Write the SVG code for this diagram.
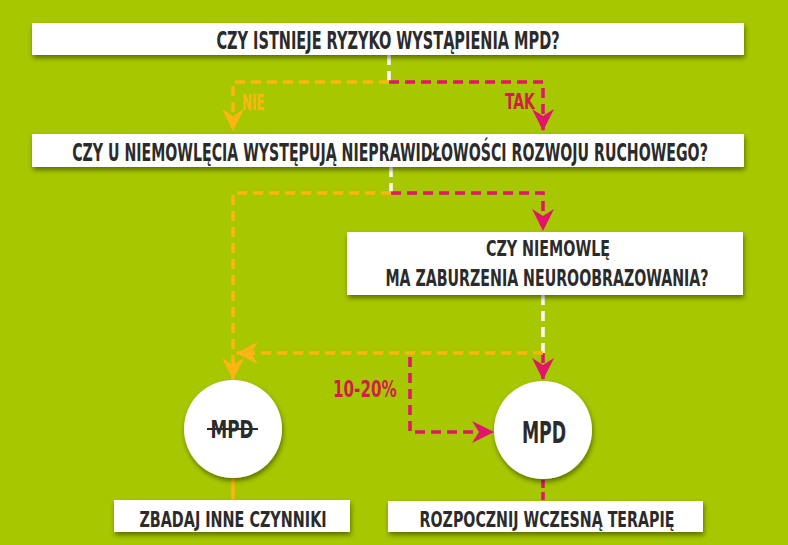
<svg xmlns="http://www.w3.org/2000/svg" width="788" height="545" viewBox="0 0 788 545">
<style>
.bg{fill:#a7c700}
.box{fill:#ffffff;filter:url(#sh)}
.t{font-family:"Liberation Sans Narrow","DejaVu Sans Condensed",Roboto,sans-serif;font-weight:700;fill:#2b2b2b;text-anchor:middle}
.lbl{font-family:"Liberation Sans Narrow","DejaVu Sans Condensed",Roboto,sans-serif;font-weight:700}
.c{fill:none;stroke-width:3.5;stroke-dasharray:10 6}
.w{stroke:#ffffff}
.y{stroke:#fdb515}
.r{stroke:#e0156b}
</style>
<defs>
<filter id="sh" x="-10%" y="-30%" width="120%" height="170%">
<feDropShadow dx="1" dy="3" stdDeviation="2.5" flood-color="#000" flood-opacity="0.45"/>
</filter>
<marker id="ay" viewBox="-23 -12 24 24" refX="0" refY="0" markerWidth="24" markerHeight="24" markerUnits="userSpaceOnUse" orient="auto">
<path d="M0,0 L-22,-11 L-15,0 L-22,11 Z" fill="#fdb515"/>
</marker>
<marker id="ar" viewBox="-23 -12 24 24" refX="0" refY="0" markerWidth="24" markerHeight="24" markerUnits="userSpaceOnUse" orient="auto">
<path d="M0,0 L-22,-11 L-15,0 L-22,11 Z" fill="#e0156b"/>
</marker>
</defs>
<rect class="bg" x="0" y="0" width="788" height="545"/>

<g id="connectors">
<path class="c w" d="M389,55 V82"/>
<path class="c y" d="M389,82 H233 V131" marker-end="url(#ay)"/>
<path class="c r" d="M389,82 H543 V131" marker-end="url(#ar)"/>
<path class="c w" d="M391,167 V193"/>
<path class="c y" d="M391,193 H233 V380" marker-end="url(#ay)"/>
<path class="c r" d="M391,193 H543 V231" marker-end="url(#ar)"/>
<path class="c w" d="M543,295 V353"/>
<path class="c r" d="M543,353 V380" marker-end="url(#ar)"/>
<path class="c y" d="M543,353 H236" marker-end="url(#ay)"/>
<path class="c r" d="M410,357 V432 H494" marker-end="url(#ar)"/>
<path class="c y" d="M233,478 V500" style="stroke-dasharray:none"/>
<path class="c r" d="M543,480 V501" style="stroke-dasharray:8 4"/>
<text class="lbl" transform="translate(242,110) scale(0.65,1)" font-size="21" fill="#fdb515" textLength="35" lengthAdjust="spacingAndGlyphs">NIE</text>
<text class="lbl" transform="translate(505,109) scale(0.65,1)" font-size="21" fill="#d21e47" textLength="46" lengthAdjust="spacingAndGlyphs">TAK</text>
<text class="lbl" transform="translate(333,397) scale(0.65,1)" font-size="23" fill="#d21e47" textLength="98" lengthAdjust="spacingAndGlyphs">10-20%</text>
</g>

<g id="q1">
<rect class="box" x="32" y="23" width="712" height="32"/>
<text class="t" transform="translate(388,49) scale(0.65,1)" font-size="24" textLength="528" lengthAdjust="spacingAndGlyphs">CZY ISTNIEJE RYZYKO WYSTĄPIENIA MPD?</text>
</g>
<g id="q2">
<rect class="box" x="32" y="134" width="712" height="33"/>
<text class="t" transform="translate(390,160.5) scale(0.65,1)" font-size="24" textLength="978" lengthAdjust="spacingAndGlyphs">CZY U NIEMOWLĘCIA WYSTĘPUJĄ NIEPRAWIDŁOWOŚCI ROZWOJU RUCHOWEGO?</text>
</g>
<g id="q3">
<rect class="box" x="347" y="232" width="396" height="63"/>
<text class="t" transform="translate(548,256) scale(0.65,1)" font-size="22" textLength="191" lengthAdjust="spacingAndGlyphs">CZY NIEMOWLĘ</text>
<text class="t" transform="translate(547,286) scale(0.65,1)" font-size="23" textLength="497" lengthAdjust="spacingAndGlyphs">MA ZABURZENIA NEUROOBRAZOWANIA?</text>
</g>
<g id="mpd-no">
<circle cx="233" cy="429" r="49" fill="#ffffff" filter="url(#sh)"/>
<text class="t" transform="translate(232,438) scale(0.65,1)" font-size="24" textLength="66" lengthAdjust="spacingAndGlyphs">MPD</text>
<line x1="207" y1="429" x2="258" y2="429" stroke="#2b2b2b" stroke-width="2"/>
</g>
<g id="mpd-yes">
<circle cx="543" cy="430" r="49" fill="#ffffff" filter="url(#sh)"/>
<text class="t" transform="translate(544,443) scale(0.65,1)" font-size="31" textLength="68" lengthAdjust="spacingAndGlyphs">MPD</text>
</g>
<g id="a1">
<rect class="box" x="114" y="500" width="236" height="32"/>
<text class="t" transform="translate(233,527) scale(0.65,1)" font-size="22" textLength="288" lengthAdjust="spacingAndGlyphs">ZBADAJ INNE CZYNNIKI</text>
</g>
<g id="a2">
<rect class="box" x="388" y="501" width="315" height="31"/>
<text class="t" transform="translate(547,527) scale(0.65,1)" font-size="22" textLength="392" lengthAdjust="spacingAndGlyphs">ROZPOCZNIJ WCZESNĄ TERAPIĘ</text>
</g>
</svg>
